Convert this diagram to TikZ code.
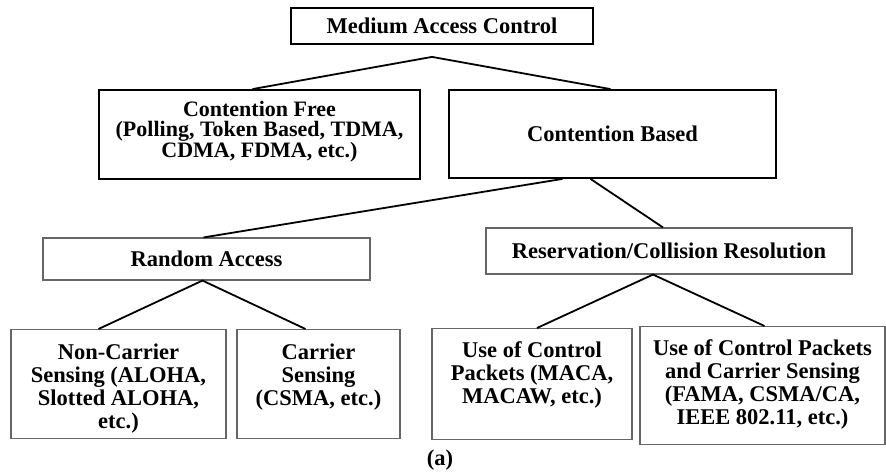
\documentclass[tikz,border=0pt]{standalone}
\usepackage{fontspec}
\setmainfont{Liberation Serif}

\begin{document}
\begin{tikzpicture}[
        x=1pt, y=-1pt,
        font=\fontsize{22.5}{23}\selectfont\bfseries,
        topbox/.style={rectangle, draw=black, line width=1.8pt, inner sep=0pt, align=center},
        subbox/.style={rectangle, draw=black!60, line width=1.1pt, inner sep=0pt, align=center},
        leafbox/.style={subbox, anchor=north},
        link/.style={line width=1.8pt}
    ]
        \useasboundingbox (0,0) rectangle (886,472);

        % Top levels
        \node[topbox, minimum width=302pt, minimum height=36pt] (mac) at (442,26) {Medium Access Control};
        \node[topbox, minimum width=321pt, minimum height=89pt, font=\fontsize{22}{20.5}\selectfont\bfseries, text depth=11pt] (cfree) at (259.5,134.5) {Contention Free\\(Polling, Token Based, TDMA,\\CDMA, FDMA, etc.)};
        \node[topbox, minimum width=327pt, minimum height=88pt] (cbased) at (612.5,134) {Contention Based};

        % Second level
        \node[subbox, minimum width=327pt, minimum height=42pt] (randacc) at (206.5,259) {Random Access};
        \node[subbox, minimum width=366pt, minimum height=46pt] (resv) at (669,251) {Reservation/Collision Resolution};

        % Leaves (text hangs from the top)
        \node[leafbox, minimum width=215pt, text height=99pt, text depth=10pt] (noncs) at (118.5,329) {Non-Carrier\\Sensing (ALOHA,\\Slotted ALOHA,\\etc.)};
        \node[leafbox, minimum width=163pt, text height=76pt, text depth=33pt] (cs) at (318.5,329) {Carrier\\Sensing\\(CSMA, etc.)};
        \node[leafbox, minimum width=200pt, text height=75pt, text depth=36pt] (ctrl) at (532,328) {Use of Control\\Packets (MACA,\\MACAW, etc.)};
        \node[leafbox, minimum width=245pt, text height=98pt, text depth=20pt] (ctrlcs) at (762.5,326) {Use of Control Packets\\and Carrier Sensing\\(FAMA, CSMA/CA,\\IEEE 802.11, etc.)};

        % Caption
        \node (caption) at (440,460) {(a)};

        % Links
        \coordinate (macjoin) at ([xshift=-10pt, yshift=-12pt]mac.south);
        \draw[link] ([xshift=-7pt]cfree.north) -- (macjoin) -- ([xshift=-2pt]cbased.north);
        \draw[link] ([xshift=-50pt]cbased.south) -- ([xshift=-3pt]randacc.north);
        \draw[link] ([xshift=-22pt]cbased.south) -- ([xshift=-6pt]resv.north);
        \draw[link] ([xshift=-20pt]noncs.north) -- ([xshift=-4pt]randacc.south) -- ([xshift=-13pt]cs.north);
        \draw[link] ([xshift=5pt]ctrl.north) -- ([xshift=-16pt]resv.south) -- ([xshift=2pt]ctrlcs.north);
    \end{tikzpicture}
\end{document}
